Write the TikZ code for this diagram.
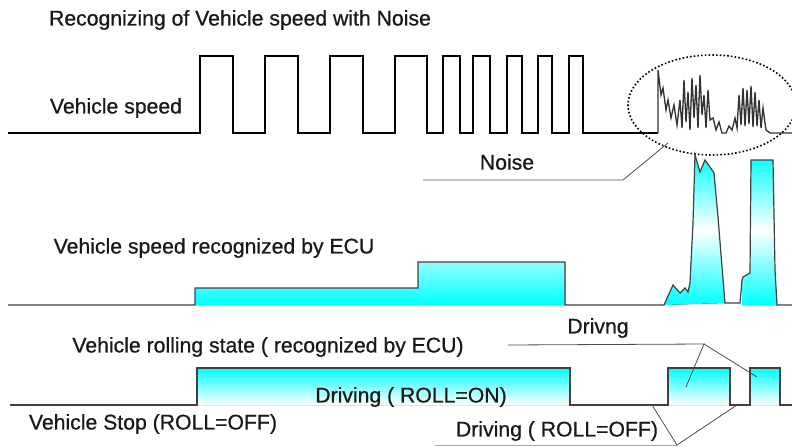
\documentclass[tikz,border=0pt]{standalone}
\usepackage{fontspec}
\setmainfont{Liberation Sans}[BoldFont={Liberation Sans}, BoldFeatures={FakeBold=0.7}]
\usetikzlibrary{positioning}

\begin{document}
\begin{tikzpicture}[x=0.75pt, y=-0.75pt,
  every node/.style={inner sep=0pt, text=black!90, font=\fontsize{15.9}{18}\selectfont\bfseries},
  sig/.style={line width=1.5pt, line join=miter},
  ecu/.style={line width=0.9pt, draw=black!75, line join=miter},
  leader/.style={line width=0.6pt, draw=black!70}]
  \useasboundingbox (0,0) rectangle (792,446);

  % vehicle speed with noise
  \draw[sig] (8,133) -- (200,133)
    -- (200,56) -- (233,56) -- (233,133) -- (265,133)
    -- (265,56) -- (298,56) -- (298,133) -- (330,133)
    -- (330,56) -- (363,56) -- (363,133) -- (395,133)
    -- (395,56) -- (427,56) -- (427,133) -- (443,133)
    -- (443,56) -- (460,56) -- (460,133) -- (473,133)
    -- (473,56) -- (490,56) -- (490,133) -- (507,133)
    -- (507,56) -- (522,56) -- (522,133) -- (538,133)
    -- (538,56) -- (552,56) -- (552,133) -- (569,133)
    -- (569,56) -- (583,56) -- (583,133) -- (658,133);
  \draw[line width=1pt, black!80] (658,133) -- (658,70) -- (661,95) -- (663,88) -- (666,110)
    -- (668,100) -- (671,118) -- (674,105) -- (677,125) -- (680,100) -- (682,128)
    -- (684,80) -- (686,122) -- (688,92) -- (690,130) -- (692,78) -- (694,118)
    -- (696,85) -- (698,128) -- (700,75) -- (702,115) -- (704,95) -- (706,128)
    -- (708,90) -- (710,120) -- (713,118) -- (716,130) -- (719,122) -- (722,133)
    -- (726,133) -- (729,126) -- (732,130) -- (735,118) -- (737,128) -- (739,95)
    -- (741,125) -- (743,88) -- (745,126) -- (747,90) -- (749,124) -- (751,86)
    -- (753,127) -- (755,92) -- (757,126) -- (759,100) -- (761,128) -- (763,108)
    -- (766,130) -- (770,133) -- (792,133);
  \draw[line width=1.2pt, dash pattern=on 1.2pt off 1.6pt] (712,105) ellipse [x radius=84, y radius=50];

  % speed recognized by ECU
  \fill[top color=cyan, bottom color=cyan, middle color=white]
    (195,305) -- (195,288) -- (418,288) -- (418,262) -- (565,262) -- (565,305) -- cycle
    (664,305) -- (673,285) -- (680,293) -- (685,288) -- (688,292) -- (690,283) -- (693,223)
    -- (695,155) -- (700,172) -- (705,160) -- (710,167) -- (714,173) -- (718,217)
    -- (722,267) -- (725,303) -- cycle
    (742,305) -- (742,280) -- (743,277) -- (750,273) -- (751,160) -- (773,160)
    -- (775,270) -- (777,305) -- cycle;
  \draw[ecu] (8,305) -- (195,305) -- (195,288) -- (418,288) -- (418,262) -- (565,262)
    -- (565,305) -- (664,305) -- (673,285) -- (680,293) -- (685,288) -- (688,292)
    -- (690,283) -- (693,223) -- (695,155) -- (700,172) -- (705,160) -- (710,167)
    -- (714,173) -- (718,217) -- (722,267) -- (725,303) -- (740,303) -- (742,280)
    -- (743,277) -- (750,273) -- (751,160) -- (773,160) -- (775,270) -- (777,305)
    -- (792,305);

  % rolling state
  \fill[top color=cyan, bottom color=white]
    (197,405) rectangle (570,368)
    (668,405) rectangle (730,368)
    (750,405) rectangle (780,368);
  \draw[ecu, line width=1.2pt] (10,405) -- (197,405) -- (197,368) -- (570,368) -- (570,405)
    -- (668,405) -- (668,368) -- (730,368) -- (730,405) -- (750,405) -- (750,368)
    -- (780,368) -- (780,405) -- (792,405);

  % labels
  \node (title) at (240,20) {Recognizing of Vehicle speed with Noise};
  \node (speed) at (116,108) {Vehicle speed};
  \node (noise) at (507,162) {Noise};
  \node (ecuspeed) at (214,248) {Vehicle speed recognized by ECU};
  \node (rolling) at (268,347) {Vehicle rolling state ( recognized by ECU)};
  \node (drivng) at (598,328) {Drivng};
  \node (rollon) at (411,397) {Driving ( ROLL=ON)};
  \node (stop) at (153,424) {Vehicle Stop (ROLL=OFF)};
  \node (rolloff) at (557,431) {Driving ( ROLL=OFF)};

  % leaders
  \coordinate (noiseA) at (423,180);
  \coordinate (noiseB) at (623,180);
  \coordinate (noiseC) at (668,143);
  \draw[leader] (noiseA) -- (noiseB) -- (noiseC);
  \coordinate (drA) at (508,345);
  \coordinate (drB) at (704,344);
  \coordinate (drC) at (686,387);
  \coordinate (drD) at (757,377);
  \draw[leader] (drA) -- (drB) -- (drC);
  \draw[leader] (drB) -- (drD);
  \coordinate (offA) at (435,445);
  \coordinate (offB) at (677,445);
  \coordinate (offC) at (652,405);
  \coordinate (offD) at (737,405);
  \draw[leader, black!35] (offA) -- (offB);
  \draw[leader] (offC) -- (offB) -- (offD);
\end{tikzpicture}
\end{document}
